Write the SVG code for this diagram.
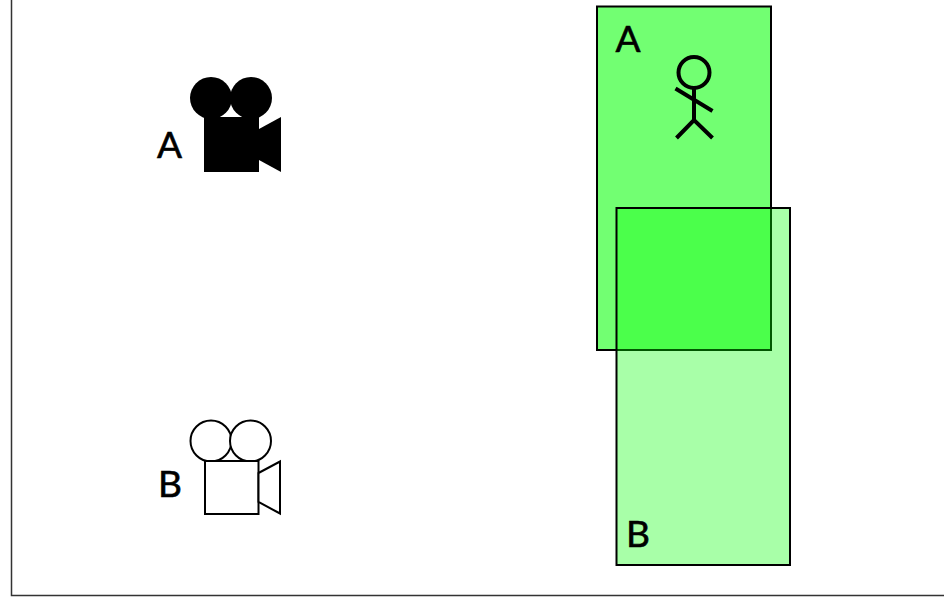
<svg xmlns="http://www.w3.org/2000/svg" width="944" height="597" viewBox="0 0 944 597">
<style>
text{font-family:"Lato","Liberation Sans",sans-serif;font-size:37px;fill:#000;stroke:#000;stroke-width:.6;text-anchor:middle}
.r{stroke:#000;stroke-width:2}
.o{fill:#fff;stroke:#000;stroke-width:2}
.s{fill:none;stroke:#000;stroke-width:4}
</style>
<rect width="944" height="597" fill="#fff"/>
<path id="frame" d="M11.500 0V595.500H944" fill="none" stroke="#333" stroke-width="1.500"/>
<g id="camera-a">
<circle cx="211" cy="98" r="21"/><circle cx="251" cy="98" r="21"/>
<rect x="204" y="117" width="55" height="55"/>
<path d="M259 129L281 117V172L259 160Z"/>
<text x="169.500" y="158">A</text>
</g>
<g id="camera-b">
<circle class="o" cx="211" cy="441" r="20.500"/><circle class="o" cx="250.500" cy="441" r="20.500"/>
<rect class="o" x="205" y="461" width="53.500" height="53"/>
<path class="o" d="M258.500 473L280 461.500V513.500L258.500 502Z"/>
<text x="170" y="497">B</text>
</g>
<g id="zone-a">
<rect class="r" x="597" y="6.500" width="174" height="343.500" fill="#72ff72"/>
</g>
<g id="zone-b">
<rect class="r" x="616.500" y="208" width="173.500" height="357" fill="#00ff00" fill-opacity=".34"/>
<text x="628" y="52">A</text>
<text x="638" y="547">B</text>
</g>
<g id="person">
<circle class="s" cx="694" cy="72.500" r="15.500"/>
<path class="s" d="M694 88V120M675.500 88.500L712.500 111M676.500 138L694 120L712.500 138"/>
</g>
</svg>
